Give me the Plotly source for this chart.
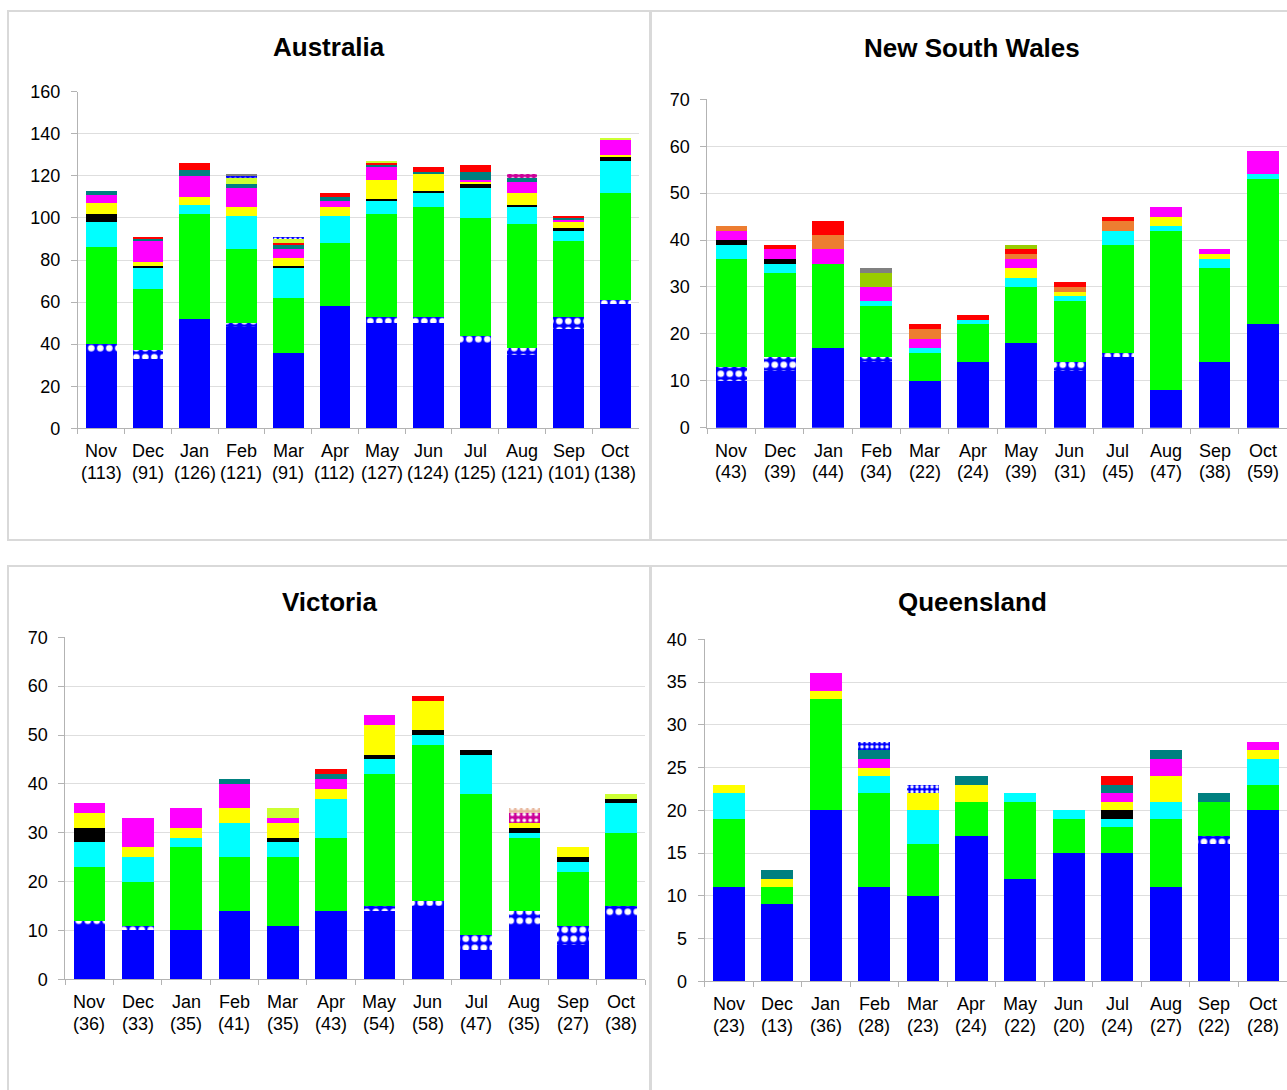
import plotly.graph_objects as go

W, H = 1287, 1090
FONT = "Liberation Sans, Arial, sans-serif"
AXIS_COLOR = "#b3b3b3"
GRID_COLOR = "#dedede"
BORDER_COLOR = "#d9d9d9"

months = ["Nov", "Dec", "Jan", "Feb", "Mar", "Apr", "May", "Jun", "Jul", "Aug", "Sep", "Oct"]

# ---- Australia ----
aus_blue       = [36, 33, 52, 48, 36, 58, 50, 50, 40, 35, 47, 59]
aus_blue_check = [4, 4, 0, 2, 0, 0, 3, 3, 4, 3, 6, 2]
aus_green      = [46, 29, 50, 35, 26, 30, 49, 52, 56, 59, 36, 51]
aus_cyan       = [12, 10, 4, 16, 14, 13, 6, 7, 14, 8, 5, 15]
aus_black      = [4, 1, 0, 0, 1, 0, 1, 1, 2, 1, 1, 2]
aus_yellow     = [5, 2, 4, 4, 4, 4, 9, 8, 1, 6, 3, 1]
aus_magenta    = [4, 10, 10, 9, 4, 3, 6, 0, 1, 5, 1, 7]
aus_teal       = [2, 1, 3, 2, 2, 2, 1, 1, 4, 2, 1, 0]
aus_red        = [0, 1, 3, 0, 1, 2, 1, 2, 3, 0, 1, 0]
aus_lime       = [0, 0, 0, 3, 2, 0, 1, 0, 0, 0, 0, 1]
aus_plum_dots  = [0, 0, 0, 0, 0, 0, 0, 0, 0, 2, 0, 0]
aus_blue_dots  = [0, 0, 0, 1, 1, 0, 0, 0, 0, 0, 0, 0]
aus_gray       = [0, 0, 0, 1, 0, 0, 0, 0, 0, 0, 0, 0]

# ---- New South Wales ----
nsw_blue       = [10, 12, 17, 14, 10, 14, 18, 12, 15, 8, 14, 22]
nsw_blue_check = [3, 3, 0, 1, 0, 0, 0, 2, 1, 0, 0, 0]
nsw_green      = [23, 18, 18, 11, 6, 8, 12, 13, 23, 34, 20, 31]
nsw_cyan       = [3, 2, 0, 1, 1, 1, 2, 1, 3, 1, 2, 1]
nsw_black      = [1, 1, 0, 0, 0, 0, 0, 0, 0, 0, 0, 0]
nsw_yellow     = [0, 0, 0, 0, 0, 0, 2, 1, 0, 2, 1, 0]
nsw_magenta    = [2, 2, 3, 3, 2, 0, 2, 0, 0, 2, 1, 5]
nsw_orange     = [1, 0, 3, 0, 2, 0, 1, 1, 2, 0, 0, 0]
nsw_red        = [0, 1, 3, 0, 1, 1, 1, 1, 1, 0, 0, 0]
nsw_olive      = [0, 0, 0, 3, 0, 0, 1, 0, 0, 0, 0, 0]
nsw_gray       = [0, 0, 0, 1, 0, 0, 0, 0, 0, 0, 0, 0]

# ---- Victoria ----
vic_blue       = [11, 10, 10, 14, 11, 14, 14, 15, 6, 11, 7, 13]
vic_blue_check = [1, 1, 0, 0, 0, 0, 1, 1, 3, 3, 4, 2]
vic_green      = [11, 9, 17, 11, 14, 15, 27, 32, 29, 15, 11, 15]
vic_cyan       = [5, 5, 2, 7, 3, 8, 3, 2, 8, 1, 2, 6]
vic_black      = [3, 0, 0, 0, 1, 0, 1, 1, 1, 1, 1, 1]
vic_yellow     = [3, 2, 2, 3, 3, 2, 6, 6, 0, 1, 2, 0]
vic_magenta    = [2, 6, 4, 5, 1, 2, 2, 0, 0, 0, 0, 0]
vic_teal       = [0, 0, 0, 1, 0, 1, 0, 0, 0, 0, 0, 0]
vic_red        = [0, 0, 0, 0, 0, 1, 0, 1, 0, 0, 0, 0]
vic_lime       = [0, 0, 0, 0, 2, 0, 0, 0, 0, 0, 0, 1]
vic_plum_dots  = [0, 0, 0, 0, 0, 0, 0, 0, 0, 2, 0, 0]
vic_tan_dots   = [0, 0, 0, 0, 0, 0, 0, 0, 0, 1, 0, 0]

# ---- Queensland ----
qld_blue       = [11, 9, 20, 11, 10, 17, 12, 15, 15, 11, 16, 20]
qld_blue_check = [0, 0, 0, 0, 0, 0, 0, 0, 0, 0, 1, 0]
qld_green      = [8, 2, 13, 11, 6, 4, 9, 4, 3, 8, 4, 3]
qld_cyan       = [3, 0, 0, 2, 4, 0, 1, 1, 1, 2, 0, 3]
qld_black      = [0, 0, 0, 0, 0, 0, 0, 0, 1, 0, 0, 0]
qld_yellow     = [1, 1, 1, 1, 2, 2, 0, 0, 1, 3, 0, 1]
qld_magenta    = [0, 0, 2, 1, 0, 0, 0, 0, 1, 2, 0, 1]
qld_teal       = [0, 1, 0, 1, 0, 1, 0, 0, 1, 1, 1, 0]
qld_red        = [0, 0, 0, 0, 0, 0, 0, 0, 1, 0, 0, 0]
qld_blue_dots  = [0, 0, 0, 1, 1, 0, 0, 0, 0, 0, 0, 0]

# Stack order (bottom to top) and fill style of each segment kind
SERIES_STYLE = [
    ("blue",       "#0000FF", None),
    ("blue_check", "#0000FF", (".", 9, 0.42)),
    ("green",      "#00FF00", None),
    ("cyan",       "#00FFFF", None),
    ("black",      "#000000", None),
    ("yellow",     "#FFFF00", None),
    ("magenta",    "#FF00FF", None),
    ("orange",     "#ED7D31", None),
    ("teal",       "#008080", None),
    ("red",        "#FF0000", None),
    ("lime",       "#CCFF33", None),
    ("olive",      "#99CC00", None),
    ("plum_dots",  "#CC0099", (".", 6, 0.3)),
    ("tan_dots",   "#E8B89E", (".", 6, 0.3)),
    ("blue_dots",  "#0000FF", (".", 5, 0.35)),
    ("gray",       "#808080", None),
]

def px(x):
    return x / W

def py(y):
    return 1 - y / H

panels = [
    dict(title="Australia", title_xy=(329, 47),
         series=dict(blue=aus_blue, blue_check=aus_blue_check, green=aus_green, cyan=aus_cyan,
                     black=aus_black, yellow=aus_yellow, magenta=aus_magenta, teal=aus_teal,
                     red=aus_red, lime=aus_lime, plum_dots=aus_plum_dots, blue_dots=aus_blue_dots,
                     gray=aus_gray),
         x_px=(77.8, 638.8), y_px=(91.7, 428.3), ymax=160, dtick=20),
    dict(title="New South Wales", title_xy=(972, 48),
         series=dict(blue=nsw_blue, blue_check=nsw_blue_check, green=nsw_green, cyan=nsw_cyan,
                     black=nsw_black, yellow=nsw_yellow, magenta=nsw_magenta, orange=nsw_orange,
                     red=nsw_red, olive=nsw_olive, gray=nsw_gray),
         x_px=(707.3, 1287), y_px=(99.3, 427.7), ymax=70, dtick=10),
    dict(title="Victoria", title_xy=(330, 602),
         series=dict(blue=vic_blue, blue_check=vic_blue_check, green=vic_green, cyan=vic_cyan,
                     black=vic_black, yellow=vic_yellow, magenta=vic_magenta, teal=vic_teal,
                     red=vic_red, lime=vic_lime, plum_dots=vic_plum_dots, tan_dots=vic_tan_dots),
         x_px=(65.3, 645.3), y_px=(637.3, 979.3), ymax=70, dtick=10),
    dict(title="Queensland", title_xy=(972, 602),
         series=dict(blue=qld_blue, blue_check=qld_blue_check, green=qld_green, cyan=qld_cyan,
                     black=qld_black, yellow=qld_yellow, magenta=qld_magenta, teal=qld_teal,
                     red=qld_red, blue_dots=qld_blue_dots),
         x_px=(704.5, 1287), y_px=(639.3, 981.3), ymax=40, dtick=5),
]

# Panel frames (x0, y0, x1, y1 in pixels)
frames = [(8, 11, 650, 540), (651, 11, 1296, 540), (8, 566, 650, 1100), (651, 566, 1296, 1100)]

fig = go.Figure()
layout = dict(
    width=W, height=H, margin=dict(l=0, r=0, t=0, b=0, pad=0, autoexpand=False),
    paper_bgcolor="white", plot_bgcolor="white",
    barmode="stack", bargap=0.34, showlegend=False,
    font=dict(family=FONT, size=18, color="black"),
)
annotations = []
shapes = []

for x0, y0, x1, y1 in frames:
    shapes.append(dict(type="rect", xref="paper", yref="paper",
                       x0=px(x0), x1=px(x1), y0=py(y1), y1=py(y0),
                       line=dict(color=BORDER_COLOR, width=2), layer="below"))

for i, p in enumerate(panels, start=1):
    xa = "x" if i == 1 else f"x{i}"
    ya = "y" if i == 1 else f"y{i}"
    for key, color, pattern in SERIES_STYLE:
        if key not in p["series"]:
            continue
        marker = dict(color=color, line=dict(width=0))
        if pattern:
            shape, size, solidity = pattern
            marker["pattern"] = dict(shape=shape, size=size, solidity=solidity,
                                     bgcolor=color, fgcolor="white", fgopacity=1,
                                     fillmode="overlay")
        fig.add_trace(go.Bar(x=months, y=p["series"][key], marker=marker,
                             xaxis=xa, yaxis=ya, name=key, hoverinfo="y"))

    xl, xr = p["x_px"]
    yt, yb = p["y_px"]
    layout["xaxis" if i == 1 else f"xaxis{i}"] = dict(
        domain=[px(xl), min(px(xr), 1)], anchor=ya, type="category",
        categoryorder="array", categoryarray=months, range=[-0.5, 11.5],
        tickson="boundaries", ticks="outside", ticklen=5, tickcolor=AXIS_COLOR, tickwidth=1,
        showline=True, linecolor=AXIS_COLOR, linewidth=1, automargin=False,
        showgrid=False, showticklabels=False, fixedrange=True)
    layout["yaxis" if i == 1 else f"yaxis{i}"] = dict(
        domain=[py(yb), py(yt)], anchor=xa, range=[0, p["ymax"]], dtick=p["dtick"],
        tick0=0, ticks="outside", ticklen=6, tickcolor=AXIS_COLOR, tickwidth=1,
        showline=True, linecolor=AXIS_COLOR, linewidth=1, automargin=False,
        showgrid=True, gridcolor=GRID_COLOR, gridwidth=1, zeroline=False,
        ticklabelstandoff=7,
        tickfont=dict(family=FONT, size=18, color="black"), fixedrange=True)

    # Title
    tx, ty = p["title_xy"]
    annotations.append(dict(text="<b>%s</b>" % p["title"], xref="paper", yref="paper",
                            x=px(tx), y=py(ty), xanchor="center", yanchor="middle",
                            showarrow=False, font=dict(family=FONT, size=26, color="black")))

    # Two-line category labels: month, then monthly total in brackets
    totals = [sum(vals[m] for vals in p["series"].values()) for m in range(len(months))]
    for m, month in enumerate(months):
        annotations.append(dict(text=month, xref=xa, yref="paper", x=month, y=py(yb + 23),
                                xanchor="center", yanchor="middle", showarrow=False,
                                font=dict(family=FONT, size=18, color="black")))
        annotations.append(dict(text="(%d)" % totals[m], xref=xa, yref="paper", x=month,
                                y=py(yb + 44.5), xanchor="center", yanchor="middle",
                                showarrow=False, font=dict(family=FONT, size=18, color="black")))

layout["annotations"] = annotations
layout["shapes"] = shapes
fig.update_layout(**layout)
fig.write_html("out.html")
